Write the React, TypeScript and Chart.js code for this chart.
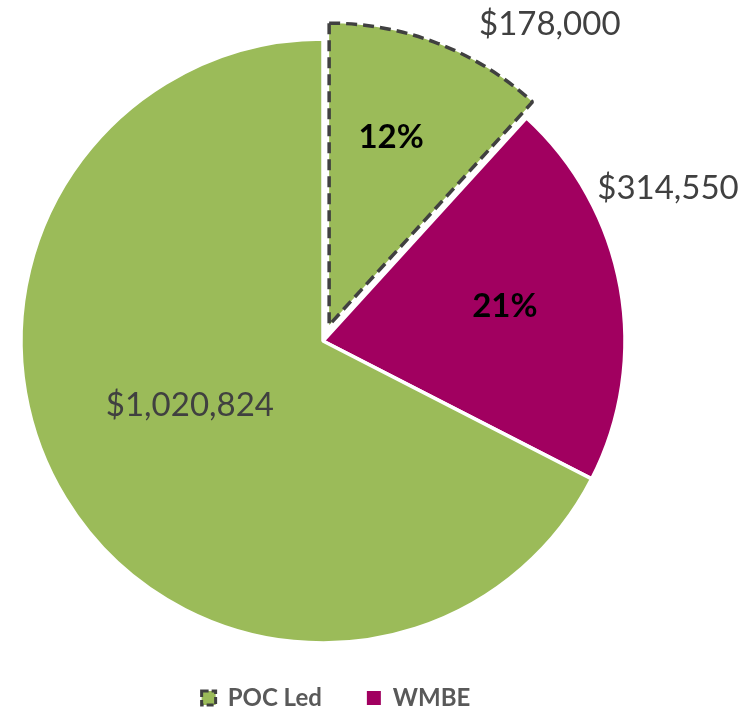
import React, { useEffect, useRef } from "react";
import { Chart, registerables } from "chart.js";

Chart.register(...registerables);

// ---- Data ----
const categories = ["POC Led", "WMBE", "Other"];
const amounts = [178000, 314550, 1020824];
const showPercent = [true, true, false];
const legendCategories = ["POC Led", "WMBE"];

// ---- Styles ----
const GREEN = "#9BBB59";
const MAGENTA = "#A10060";
const sliceColors = [GREEN, MAGENTA, GREEN];
const sliceBorderColors = ["#404040", "#FFFFFF", "#FFFFFF"];
const sliceBorderWidths = [3.5, 3.5, 3.5];
const sliceBorderDash = [[11, 6], [], []];
const sliceExplode = [17, 0, 0];
const FONT = "Lato";
const LEGEND_SHIFT = 13;

// label placement relative to each slice: fraction of radius, angle shift (deg)
const valuePlace = [
  { frac: 1.242, delta: 15.0 },
  { frac: 1.255, delta: -13.8 },
  { frac: 0.49, delta: 5.9 },
];
const percentPlace = [
  { frac: 0.66, delta: -3.0 },
  { frac: 0.616, delta: -0.95 },
  { frac: 0, delta: 0 },
];

const fmtMoney = (v: number) => "$" + v.toLocaleString("en-US");

// Explode slices by moving their centre along the mid angle
const explodePlugin = {
  id: "explode",
  afterDatasetsUpdate(chart: any) {
    const meta = chart.getDatasetMeta(0);
    meta.data.forEach((arc: any, i: number) => {
      const d = sliceExplode[i] || 0;
      if (!d) return;
      const mid = (arc.startAngle + arc.endAngle) / 2;
      arc.x += Math.cos(mid) * d;
      arc.y += Math.sin(mid) * d;
    });
  },
  afterLayout(chart: any) {
    if (chart.legend) {
      chart.legend.left += LEGEND_SHIFT;
      chart.legend.right += LEGEND_SHIFT;
    }
  },
};

const sliceLabelPlugin = {
  id: "sliceLabels",
  afterDatasetsDraw(chart: any) {
    const ctx = chart.ctx as CanvasRenderingContext2D;
    const meta = chart.getDatasetMeta(0);
    const data = chart.data.datasets[0].data as number[];
    const total = data.reduce((a, b) => a + b, 0);
    meta.data.forEach((arc: any, i: number) => {
      const p = arc.getProps(["x", "y", "startAngle", "endAngle", "outerRadius"], true);
      const mid = (p.startAngle + p.endAngle) / 2;
      const at = (pl: { frac: number; delta: number }) => {
        const a = mid + (pl.delta * Math.PI) / 180;
        const r = 301 * pl.frac;
        return [p.x + Math.cos(a) * r, p.y + Math.sin(a) * r];
      };
      ctx.save();
      ctx.textAlign = "center";
      ctx.textBaseline = "alphabetic";
      {
        const size = 33;
        const [lx, ly] = at(valuePlace[i]);
        ctx.font = `normal ${size}px ${FONT}`;
        ctx.fillStyle = "#404040";
        ctx.fillText(fmtMoney(data[i]), lx, ly + size * 0.358);
      }
      if (showPercent[i]) {
        const size = 33;
        const [lx, ly] = at(percentPlace[i]);
        ctx.font = `bold ${size}px ${FONT}`;
        ctx.fillStyle = "#000000";
        ctx.fillText(Math.round((data[i] / total) * 100) + "%", lx, ly + size * 0.358);
      }
      ctx.restore();
    });
  },
};

export default function App() {
  const ref = useRef<HTMLCanvasElement | null>(null);
  useEffect(() => {
    if (!ref.current) return;
    const chart = new Chart(ref.current, {
      type: "pie",
      data: {
        labels: categories,
        datasets: [
          {
            data: amounts,
            backgroundColor: sliceColors,
            borderColor: sliceBorderColors,
            borderWidth: sliceBorderWidths,
            borderDash: (c: any) => sliceBorderDash[c.dataIndex] || [],
            clip: false,
          } as any,
        ],
      },
      options: {
        responsive: false,
        devicePixelRatio: 1,
        animation: false,
        radius: 302,
        layout: { padding: { top: 41, left: 0, right: 105, bottom: 0 } },
        plugins: {
          tooltip: { enabled: false },
          legend: {
            display: true,
            position: "bottom",
            labels: {
              color: "#595959",
              font: { family: FONT, size: 24, weight: "bold" },
              boxWidth: 14,
              boxHeight: 14,
              padding: 45,
              generateLabels: () =>
                legendCategories.map((name) => {
                  const i = categories.indexOf(name);
                  const dashed = sliceBorderDash[i].length > 0;
                  return {
                    text: name,
                    fillStyle: sliceColors[i],
                    strokeStyle: dashed ? "#404040" : sliceColors[i],
                    lineWidth: dashed ? 3 : 0,
                    lineDash: dashed ? [7, 3] : [],
                    fontColor: "#595959",
                    hidden: false,
                    index: i,
                  } as any;
                }),
            },
          },
        },
      } as any,
      plugins: [explodePlugin as any, sliceLabelPlugin as any],
    });
    return () => chart.destroy();
  }, []);
  return (
    <div style={{ position: "absolute", left: 0, top: 0, width: 751, height: 720 }}>
      <canvas ref={ref} width={751} height={720} style={{ display: "block" }} />
    </div>
  );
}
